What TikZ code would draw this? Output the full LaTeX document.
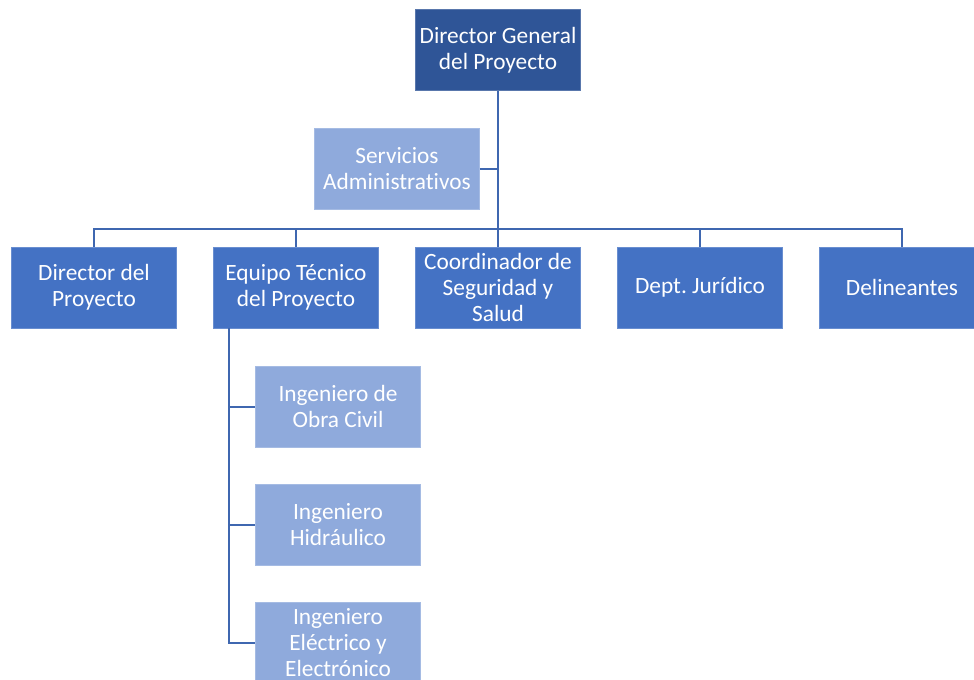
\documentclass[tikz,border=0pt]{standalone}
\usepackage{fontspec}
\setmainfont{Carlito}[Ligatures=CommonOff]
\frenchspacing
\usepackage{xcolor}
\usepackage{tikz}
\usetikzlibrary{positioning, calc}
\definecolor{darkblue}{HTML}{2F5597}
\definecolor{midblue}{HTML}{4472C4}
\definecolor{lightblue}{HTML}{8FAADC}
\definecolor{linkblue}{HTML}{3F67B0}
\tikzstyle{box} = [rectangle, minimum width=123.75pt, minimum height=60.75pt, text centered, align=center, text=white, inner sep=1pt, font=\fontsize{17.5}{19.5}\selectfont]
\tikzstyle{head} = [box, fill=darkblue, draw=darkblue!80!white]
\tikzstyle{unit} = [box, fill=midblue, draw=midblue!80!white]
\tikzstyle{staff} = [box, fill=lightblue, draw=lightblue!80!white]
\tikzstyle{link} = [draw=linkblue, line width=1.5pt]

\begin{document}
\begin{tikzpicture}[x=0.75pt, y=-0.75pt]

        \clip (0,0) rectangle (974,679);
        \fill[white] (0,0) rectangle (974,679);

        \node (director) [head] at (498,50) {Director General\\del Proyecto};
        \node (servicios) [staff] at (397,169) {Servicios\\Administrativos};

        \node (dirproy) [unit] at (94,287.5) {Director del\\Proyecto};
        \node (equipo) [unit] at (296,287.5) {Equipo Técnico\\del Proyecto};
        \node (coord) [unit] at (498,287.5) {Coordinador de\\Seguridad y\\Salud};
        \node (juridico) [unit] at (700,287.5) {Dept. Jurídico};
        \node (delin) [unit] at (902,287.5) {Delineantes};

        \node (civil) [staff] at (338,406.5) {Ingeniero de\\Obra Civil};
        \node (hidra) [staff] at (338,525) {Ingeniero\\Hidráulico};
        \node (elec) [staff] at (338,643) {Ingeniero\\Eléctrico y\\Electrónico};

        \coordinate (bus) at (0,229);
        \coordinate (rail) at (229,0);

        \draw [link] (director.south) -- (director.south |- bus);
        \draw [link] (servicios.east) -- (servicios.east -| director.south);
        \draw [link] (director.south |- bus) -| (dirproy.north);
        \draw [link] (director.south |- bus) -| (equipo.north);
        \draw [link] (director.south |- bus) -- (coord.north);
        \draw [link] (director.south |- bus) -| (juridico.north);
        \draw [link] (director.south |- bus) -| (delin.north);
        \draw [link] (equipo.south -| rail) |- (civil.west);
        \draw [link] (equipo.south -| rail) |- (hidra.west);
        \draw [link] (equipo.south -| rail) |- (elec.west);

    \end{tikzpicture}
\end{document}
